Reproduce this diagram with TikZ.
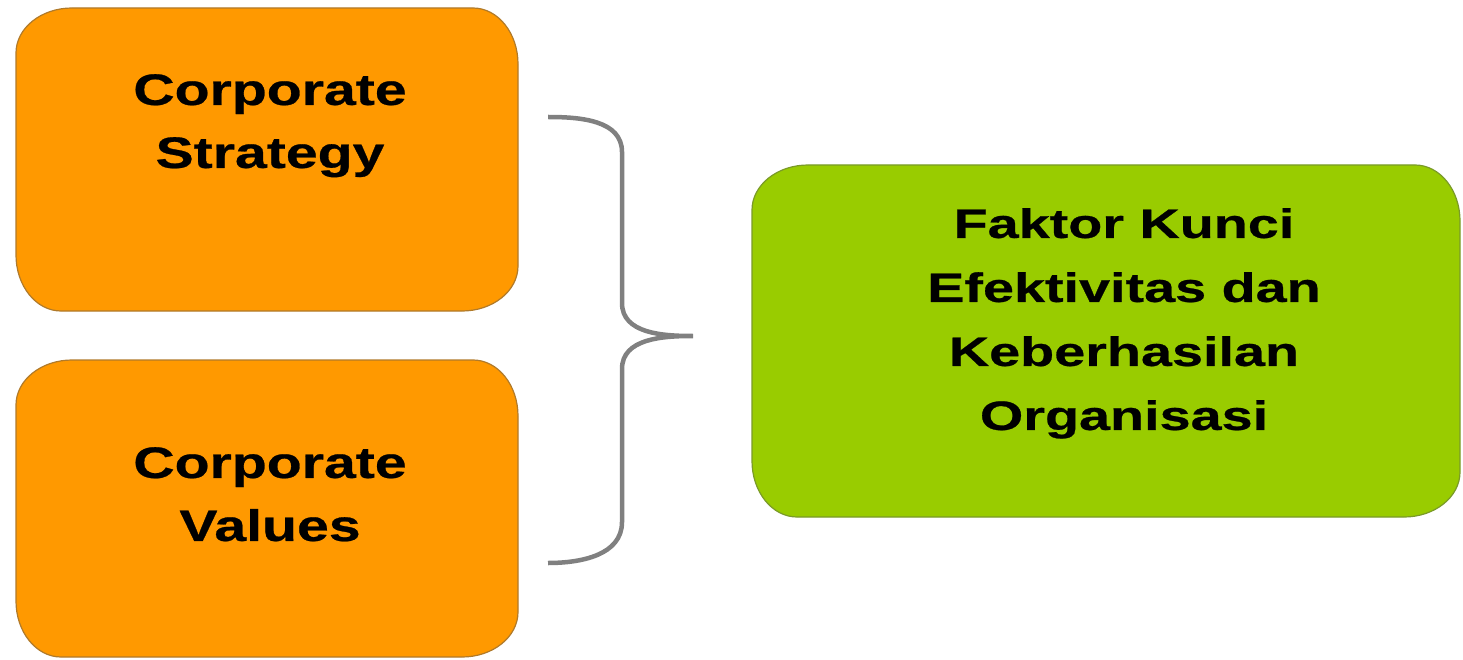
\documentclass[tikz,border=0pt]{standalone}
\usepackage{fontspec}
\setmainfont{Liberation Sans}
\newfontfamily\inputfont[FakeStretch=1.30, FakeBold=0.6]{Liberation Sans}
\newfontfamily\resultfont[FakeStretch=1.36, FakeBold=0.6]{Liberation Sans}

\definecolor{boxorange}{HTML}{FF9900}
\definecolor{orangeedge}{HTML}{B07A2A}
\definecolor{boxgreen}{HTML}{99CC00}
\definecolor{greenedge}{HTML}{7A9A28}
\definecolor{bracegray}{HTML}{808080}

\tikzset{
  ellcorners/.code={\pgfsetcornersarced{\pgfpoint{56pt}{45pt}}},
  card/.style={draw, line width=1.2pt, inner sep=0pt, ellcorners},
  orangecard/.style={card, fill=boxorange, draw=orangeedge,
    minimum width=502pt},
  greencard/.style={card, fill=boxgreen, draw=greenedge,
    minimum width=708pt, minimum height=352pt},
  cardtext/.style={align=center, inner sep=0pt, anchor=north},
  inputtext/.style={cardtext,
    font=\inputfont\bfseries\fontsize{44}{63}\selectfont},
  resulttext/.style={cardtext,
    font=\resultfont\bfseries\fontsize{41}{64}\selectfont},
  bracestroke/.style={draw=bracegray, line width=4.5pt}
}

\begin{document}
\begin{tikzpicture}[x=1pt, y=-1pt]
  \useasboundingbox (0,0) rectangle (1463,660);

  % the two input boxes
  \node[orangecard, minimum height=303pt] (strategy) at (267,159.5) {};
  \node[orangecard, minimum height=297pt] (values) at (267,508.5) {};
  \node[inputtext] (strategytext) at (270,74) {Corporate\\Strategy};
  \node[inputtext] (valuestext) at (270,447) {Corporate\\Values};

  % the result box
  \node[greencard] (result) at (1106,341) {};
  \node[resulttext] (resulttextnode) at (1124,208)
    {Faktor Kunci\\Efektivitas dan\\Keberhasilan\\Organisasi};

  % curly brace joining both inputs towards the result
  \coordinate (bracetop) at (548,117);
  \coordinate (bracetip) at (693,336);
  \coordinate (bracebottom) at (548,563);
  \path[bracestroke]
    (bracetop) to[out=0, in=90] (622,152) -- (622,303)
    to[out=-90, in=180] (bracetip)
    to[out=180, in=90] (622,369) -- (622,522)
    to[out=-90, in=0] (bracebottom);
\end{tikzpicture}
\end{document}
